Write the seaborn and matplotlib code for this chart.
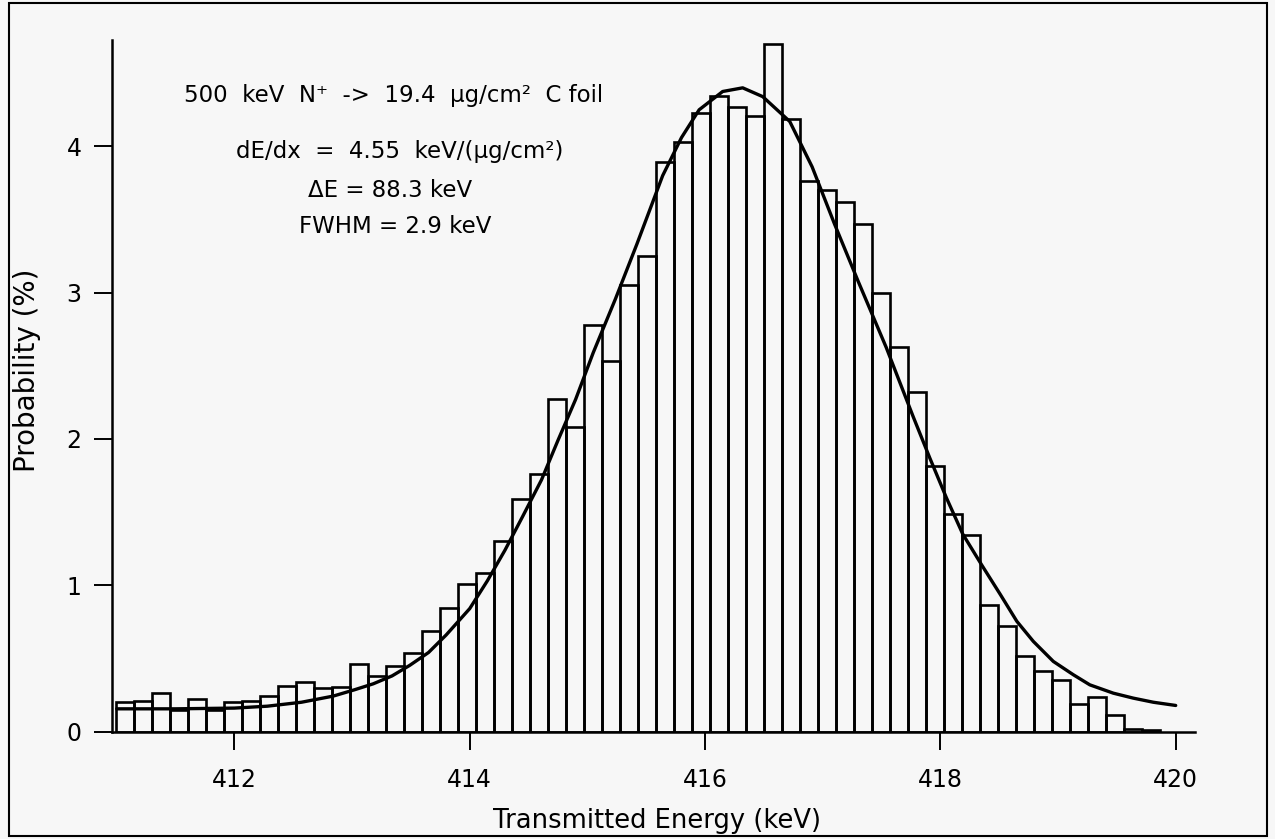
import numpy as np
import pandas as pd
import matplotlib
matplotlib.use("Agg")
import matplotlib.pyplot as plt
import seaborn as sns
from matplotlib.patches import Rectangle

# ---------------- data ----------------
bin_start = 410.99          # keV, left edge of first histogram bin
bin_width = 0.1531          # keV
probability = [            # % per bin
    0.20, 0.21, 0.26, 0.15, 0.22, 0.145, 0.205, 0.21, 0.24, 0.31,
    0.34, 0.30, 0.305, 0.46, 0.38, 0.45, 0.54, 0.685, 0.845, 1.01,
    1.085, 1.305, 1.59, 1.76, 2.27, 2.08, 2.78, 2.53, 3.05, 3.25,
    3.895, 4.03, 4.23, 4.345, 4.27, 4.21, 4.70, 4.19, 3.76, 3.70,
    3.62, 3.47, 3.00, 2.63, 2.32, 1.815, 1.485, 1.345, 0.865, 0.72,
    0.515, 0.415, 0.355, 0.19, 0.235, 0.11, 0.02, 0.01,
]
fit_energy = [411.0, 411.5, 412.0, 412.28, 412.57, 412.84, 413.02, 413.18,
              413.34, 413.49, 413.65, 413.80, 414.0, 414.15, 414.30, 414.45,
              414.61, 414.75, 414.90, 415.05, 415.24, 415.42, 415.64, 415.80,
              415.95, 416.15, 416.32, 416.49, 416.72, 416.91, 417.10, 417.30,
              417.54, 417.77, 417.91, 418.05, 418.19, 418.35, 418.51, 418.65,
              418.79, 418.96, 419.13, 419.27, 419.47, 419.64, 419.81, 420.0]
fit_prob = [0.155, 0.155, 0.16, 0.173, 0.20, 0.242, 0.285, 0.326,
            0.38, 0.452, 0.54, 0.66, 0.84, 1.03, 1.24, 1.47,
            1.72, 1.99, 2.27, 2.59, 2.96, 3.33, 3.80, 4.06,
            4.25, 4.375, 4.40, 4.34, 4.17, 3.86, 3.47, 3.08,
            2.625, 2.15, 1.87, 1.60, 1.35, 1.14, 0.936, 0.753,
            0.616, 0.479, 0.388, 0.319, 0.262, 0.228, 0.20, 0.178]
x_ticks = [412, 414, 416, 418, 420]
y_ticks = [0, 1, 2, 3, 4]
x_label = "Transmitted Energy (keV)"
y_label = "Probability (%)"
annotations = ["500  keV  N\u207a  ->  19.4  \u03bcg/cm\u00b2  C foil",
               "dE/dx  =  4.55  keV/(\u03bcg/cm\u00b2)",
               "\u0394E = 88.3 keV",
               "FWHM = 2.9 keV"]

# ---------------- figure ----------------
W, H = 1275, 839
bg = "#f7f7f7"
sns.set_theme(style="ticks")
plt.rcParams["font.family"] = ["DejaVu Sans"]
plt.rcParams["text.color"] = "black"
fig = plt.figure(figsize=(W / 100, H / 100), dpi=100, facecolor=bg)
ax = fig.add_axes([112 / W, 1 - 731.5 / H, (1195 - 112) / W, (731.5 - 40) / H])
ax.set_facecolor(bg)

edges = list(bin_start + bin_width * np.arange(len(probability) + 1))
hist_df = pd.DataFrame({
    "energy": [0.5 * (a + b) for a, b in zip(edges[:-1], edges[1:])],
    "prob": probability,
})
sns.histplot(data=hist_df, x="energy", weights="prob", bins=edges,
             fill=False, color="black", linewidth=1.9, ax=ax)
fit_df = pd.DataFrame({"energy": fit_energy, "prob": fit_prob})
line = sns.lineplot(data=fit_df, x="energy", y="prob", sort=False,
                    color="black", linewidth=2.4, ax=ax)
for ln in ax.get_lines():
    ln.set_solid_joinstyle("round")
    ln.set_solid_capstyle("round")

ax.set_xlim(410.96, 420.164)
ax.set_ylim(0, 4.727)
ax.set_xticks(x_ticks)
ax.set_yticks(y_ticks)
ax.set_xlabel("")
ax.set_ylabel("")
for s in ("top", "right"):
    ax.spines[s].set_visible(False)
for s in ("left", "bottom"):
    ax.spines[s].set_linewidth(1.8)
    ax.spines[s].set_color("black")
ax.tick_params(axis="both", direction="out", length=13, width=1.4,
               colors="black", labelsize=17)
ax.tick_params(axis="x", pad=13)
ax.tick_params(axis="y", pad=9)

def fx(px):
    return px / W

def fy(py):
    return 1 - py / H

fig.text(fx(657), fy(828), x_label, ha="center", va="baseline",
         fontsize=18.5, color="black")
fig.text(fx(27), fy(370), y_label, ha="center", va="center", rotation=90,
         fontsize=20, color="black")

text_size = 16.5
fig.text(fx(394), fy(101.7), annotations[0], ha="center", va="baseline",
         fontsize=text_size, color="black")
fig.text(fx(400), fy(158), annotations[1], ha="center", va="baseline",
         fontsize=text_size, color="black")
fig.text(fx(390), fy(197), annotations[2], ha="center", va="baseline",
         fontsize=text_size, color="black")
fig.text(fx(395), fy(233), annotations[3], ha="center", va="baseline",
         fontsize=text_size, color="black")

# scanned page frame
fig.patches.append(Rectangle((fx(9), fy(836)), fx(1267) - fx(9),
                             fy(3) - fy(836), transform=fig.transFigure,
                             fill=False, edgecolor="black", linewidth=1.5))

fig.savefig("out.png", dpi=100, facecolor=bg)
